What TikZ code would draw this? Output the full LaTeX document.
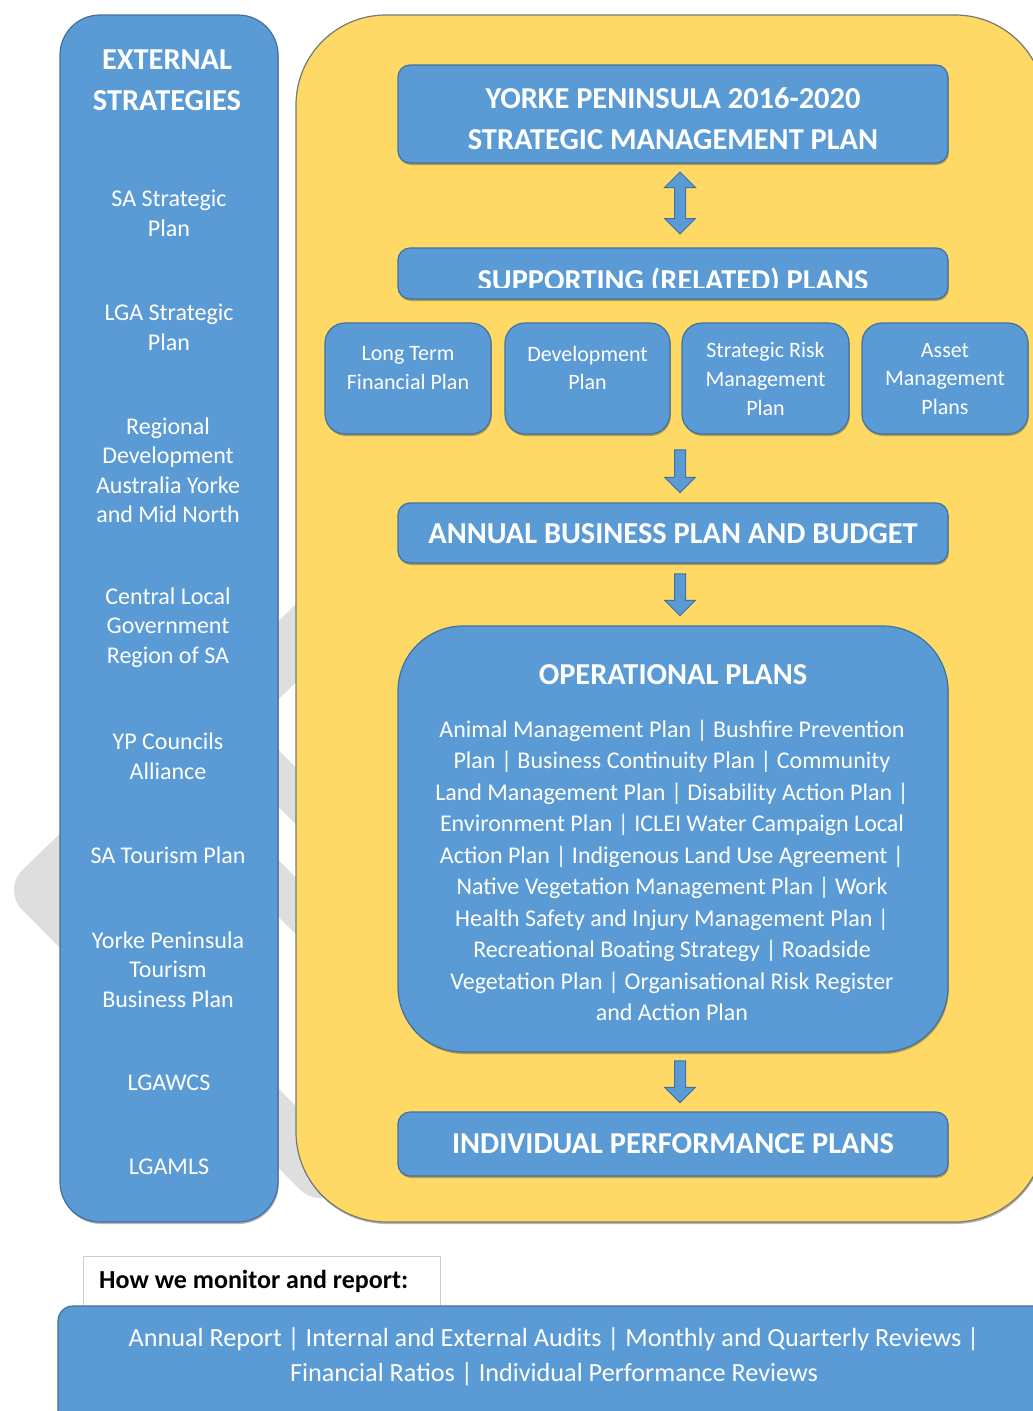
\documentclass[tikz,border=0pt]{standalone}
\usepackage{fontspec}
\setmainfont{Carlito}
\usetikzlibrary{shapes.arrows,calc,shadows}

\definecolor{planblue}{RGB}{91,155,213}
\definecolor{planedge}{RGB}{65,113,156}
\definecolor{plangold}{RGB}{255,217,102}
\definecolor{goldedge}{RGB}{120,120,110}
\definecolor{wmark}{RGB}{222,222,222}
\definecolor{frameline}{RGB}{205,205,205}

\tikzset{
  softshadow/.style={drop shadow={shadow xshift=0.8pt, shadow yshift=-2pt, opacity=0.28, fill=black}},
  bluebox/.style={draw=planedge, line width=1.2pt, fill=planblue, rounded corners=12pt, softshadow, inner sep=0pt},
  goldbox/.style={draw=goldedge, line width=1.2pt, fill=plangold, rounded corners=90pt, softshadow, inner sep=0pt},
  headtext/.style={text=white, align=center, inner sep=0pt, font=\fontsize{30.4}{41}\selectfont\bfseries},
  bodytext/.style={text=white, align=center, inner sep=0pt, font=\fontsize{24}{29.5}\selectfont},
  subtext/.style={text=white, align=center, inner sep=0pt, font=\fontsize{22}{28.8}\selectfont},
  optext/.style={text=white, align=center, inner sep=0pt, font=\fontsize{24}{31.5}\selectfont},
  downarrow/.style={single arrow, draw=planedge, line width=1pt, fill=planblue, rotate=-90,
    minimum width=30pt, minimum height=43pt, single arrow head extend=10pt,
    single arrow head indent=0pt, inner xsep=0pt, inner ysep=5pt},
  bothways/.style={double arrow, draw=planedge, line width=1pt, fill=planblue, rotate=-90,
    minimum width=30pt, minimum height=62pt, double arrow head extend=10pt,
    double arrow head indent=0pt, inner xsep=0pt, inner ysep=5pt}
}

\begin{document}
\begin{tikzpicture}[x=1pt,y=-1pt]
\useasboundingbox (0,0) rectangle (1033,1411);
\clip (0,0) rectangle (1033,1411);
\fill[white] (0,0) rectangle (1033,1411);

% faint chevron mark in the background
\draw[wmark, line width=56pt, line join=round, line cap=round]
  (320,620) -- (42,890) -- (320,1170);
\draw[wmark, line width=40pt] (200,700) -- (330,830);
\draw[wmark, line width=40pt] (200,810) -- (330,940);

% left column: external strategies
\node[bluebox, rounded corners=40pt, minimum width=218pt, minimum height=1207pt] (ext) at (169,618.5) {};
\node[headtext] (exthead) at (167,80.5) {EXTERNAL\\STRATEGIES};
\node[bodytext] (e1) at (169,213.5) {SA Strategic\\Plan};
\node[bodytext] (e2) at (169,327.5) {LGA Strategic\\Plan};
\node[bodytext] (e3) at (168,470) {Regional\\Development\\Australia Yorke\\and Mid North};
\node[bodytext] (e4) at (168,627.5) {Central Local\\Government\\Region of SA};
\node[bodytext] (e5) at (168,756) {YP Councils\\Alliance};
\node[bodytext] (e6) at (168,855) {SA Tourism Plan};
\node[bodytext] (e7) at (168,969.5) {Yorke Peninsula\\Tourism\\Business Plan};
\node[bodytext] (e8) at (169,1083) {LGAWCS};
\node[bodytext] (e9) at (169,1167) {LGAMLS};

% main planning frame
\node[goldbox, minimum width=749pt, minimum height=1207pt] (core) at (670.5,618.5) {};

% strategic management plan
\node[bluebox, minimum width=550pt, minimum height=98pt] (smp) at (673,114) {};
\node[headtext] (smptxt) at (673,118.5) {YORKE PENINSULA 2016-2020\\STRATEGIC MANAGEMENT PLAN};

% supporting plans
\node[bluebox, minimum width=550pt, minimum height=51pt] (srp) at (673,273.5) {};
\begin{scope}
  \clip (400,250) rectangle (946,287.5);
  \node[headtext, anchor=base] (srptxt) at (673,290) {SUPPORTING (RELATED) PLANS};
\end{scope}

\node[bothways] (a1) at ($(smp.south)!0.5!(srp.north)+(7,-2.5)$) {};

% the four supporting plans
\node[bluebox, rounded corners=20pt, minimum width=166pt, minimum height=111pt] (p1) at (408,378.5) {};
\node[bluebox, rounded corners=20pt, minimum width=165pt, minimum height=111pt] (p2) at (587.5,378.5) {};
\node[bluebox, rounded corners=20pt, minimum width=167pt, minimum height=111pt] (p3) at (765.5,378.5) {};
\node[bluebox, rounded corners=20pt, minimum width=166pt, minimum height=111pt] (p4) at (945,378.5) {};
\node[subtext] (p1txt) at (408,368) {Long Term\\Financial Plan};
\node[subtext] (p2txt) at (587.5,368) {Development\\Plan};
\node[subtext] (p3txt) at (765.5,379) {Strategic Risk\\Management\\Plan};
\node[subtext] (p4txt) at (945,379) {Asset\\Management\\Plans};

% annual business plan
\node[bluebox, minimum width=550pt, minimum height=60pt] (abp) at (673,533) {};
\node[headtext] (abptxt) at (673,534) {ANNUAL BUSINESS PLAN AND BUDGET};
\node[downarrow] (a2) at ($(abp.north |- p3.south)!0.5!(abp.north)+(7,0)$) {};

% operational plans
\node[bluebox, rounded corners=65pt, minimum width=550pt, minimum height=426pt] (op) at (673,839) {};
\node[headtext] (optitle) at (673,675) {OPERATIONAL PLANS};
\node[optext] (opbody) at (672,870.5) {Animal Management Plan | Bushfire Prevention\\
Plan | Business Continuity Plan | Community\\
Land Management Plan | Disability Action Plan |\\
Environment Plan | ICLEI Water Campaign Local\\
Action Plan | Indigenous Land Use Agreement |\\
Native Vegetation Management Plan | Work\\
Health Safety and Injury Management Plan |\\
Recreational Boating Strategy | Roadside\\
Vegetation Plan | Organisational Risk Register\\
and Action Plan};
\node[downarrow, minimum height=42pt] (a3) at ($(abp.south)!0.5!(op.north)+(7,-2.5)$) {};

% individual performance plans
\node[bluebox, minimum width=550pt, minimum height=64pt] (ipp) at (673,1144) {};
\node[headtext] (ipptxt) at (673,1144) {INDIVIDUAL PERFORMANCE PLANS};
\node[downarrow, minimum height=42pt] (a4) at ($(op.south)!0.5!(ipp.north)+(7,-3)$) {};

% monitoring and reporting
\node[draw=frameline, line width=0.8pt, fill=white, minimum width=357pt, minimum height=51pt, inner sep=0pt] (mon) at (261.5,1281.5) {};
\node[anchor=west, inner sep=0pt, font=\fontsize{26}{30}\selectfont\bfseries] (montxt) at (99,1281) {How we monitor and report:};
\node[bluebox, rounded corners=15pt, minimum width=1002pt, minimum height=134pt] (rep) at (559,1373) {};
\node[bodytext, font=\fontsize{26.2}{35}\selectfont] (reptxt) at (554,1356.5) {Annual Report | Internal and External Audits | Monthly and Quarterly Reviews |\\
Financial Ratios | Individual Performance Reviews};
\end{tikzpicture}
\end{document}
